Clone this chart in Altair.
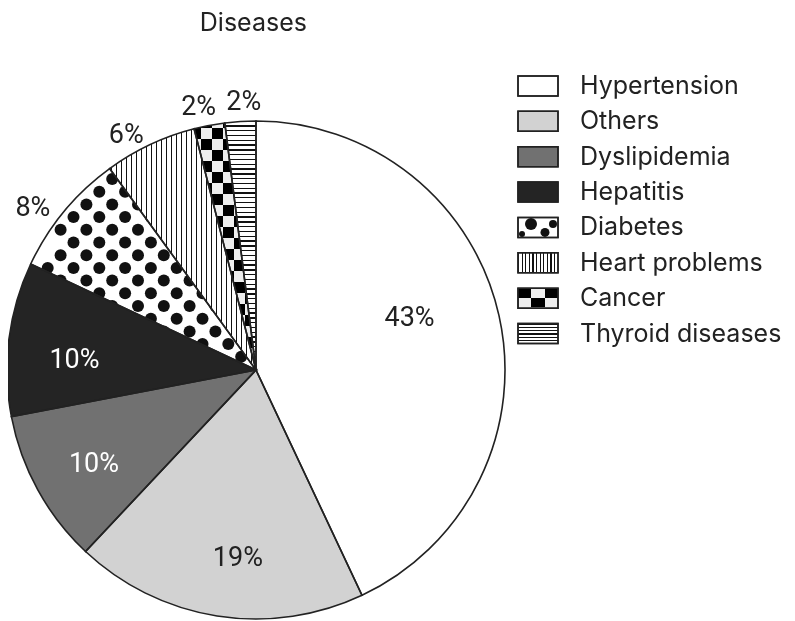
import math
import altair as alt
import pandas as pd

# ---------------- data ----------------
categories = ["Hypertension", "Others", "Dyslipidemia", "Hepatitis",
              "Diabetes", "Heart problems", "Cancer", "Thyroid diseases"]
values = [43, 19, 10, 10, 8, 6, 2, 2]
labels = ["43%", "19%", "10%", "10%", "8%", "6%", "2%", "2%"]
title_text = "Diseases"

# ---------------- style / layout ----------------
FONT = "Inter"
LABEL_FONT = "Roboto"
INK = "#222222"
W, H = 779, 583
CX, CY, R = 248, 332, 249
solid_fill = {"Hypertension": "#ffffff", "Others": "#d2d2d2",
              "Dyslipidemia": "#717171", "Hepatitis": "#242424", "Diabetes": "#ffffff"}
dark_label = ["Dyslipidemia", "Hepatitis"]
# label placement style: (radius, dx, dy)
label_place = {"Hypertension": (186, -28, -11), "Others": (186, 11, 4),
               "Dyslipidemia": (186, 1, 4), "Hepatitis": (186, 3, 13),
               "Diabetes": (274, -12, 13), "Heart problems": (274, -13, 13),
               "Cancer": (274, -6, 6), "Thyroid diseases": (274, 5, 5)}
LEG_X, LEG_TXT_X = 530, 572
LEG_RANGE = [48, 295.5]

total = sum(values)
starts, acc = [], 0
for v in values:
    starts.append(acc)
    acc += v
ends = [s + v for s, v in zip(starts, values)]
mids = [(s + e) / 2 for s, e in zip(starts, ends)]
df = pd.DataFrame({"cat": categories, "value": values, "label": labels,
                   "start": starts, "end": ends, "mid": mids})
theta_scale = alt.Scale(domain=[0, total])


def deg(p):
    return p / total * 360.0


def wedge_bbox(c):
    i = categories.index(c)
    a0, a1 = deg(starts[i]), deg(ends[i])
    pts = [(0.0, 0.0)]
    for a in (a0, a1):
        r = math.radians(a)
        pts.append((R * math.sin(r), -R * math.cos(r)))
    for card in (0, 90, 180, 270, 360):
        if a0 <= card <= a1:
            r = math.radians(card)
            pts.append((R * math.sin(r), -R * math.cos(r)))
    xs = [p[0] for p in pts]
    ys = [p[1] for p in pts]
    return min(xs), max(xs), min(ys), max(ys)


def stripe_stops(lo, hi, period, width, phase=0.0, dark="#111111", light="#ffffff"):
    span = hi - lo
    stops = [{"offset": 0, "color": light}]
    k = math.floor((lo - phase) / period) - 1
    while True:
        s = phase + k * period
        e = s + width
        if s > hi:
            break
        if e > lo:
            so = max(0.0, (s - lo) / span)
            eo = min(1.0, (e - lo) / span)
            stops += [{"offset": so, "color": light}, {"offset": so, "color": dark},
                      {"offset": eo, "color": dark}, {"offset": eo, "color": light}]
        k += 1
    stops.append({"offset": 1, "color": light})
    return stops


def grad(stops, horizontal):
    if horizontal:
        return {"gradient": "linear", "x1": 0, "y1": 0, "x2": 1, "y2": 0, "stops": stops}
    return {"gradient": "linear", "x1": 0, "y1": 0, "x2": 0, "y2": 1, "stops": stops}


# pattern fills for wedges
hx0, hx1, _, _ = wedge_bbox("Heart problems")
heart_fill = grad(stripe_stops(hx0, hx1, 5.0, 1.5), True)
_, _, ty0, ty1 = wedge_bbox("Thyroid diseases")
thyroid_fill = grad(stripe_stops(ty0, ty1, 4.8, 1.3), False)
cx0, cx1, cy0, cy1 = wedge_bbox("Cancer")
cancer_rows = grad(stripe_stops(cy0, cy1, 22.0, 11.0), False)
cancer_cols = grad(stripe_stops(cx0, cx1, 22.0, 11.0, phase=0.0), True)

# pattern fills for legend symbols (relative)
heart_leg = grad(stripe_stops(0, 40, 3.6, 1.2), True)
thyroid_leg = grad(stripe_stops(0, 20, 3.3, 1.1), False)
cancer_leg_rows = grad([{"offset": 0, "color": "#111111"}, {"offset": 0.5, "color": "#111111"},
                        {"offset": 0.5, "color": "#ffffff"}, {"offset": 1, "color": "#ffffff"}], False)
cancer_leg_cols = grad([{"offset": 0, "color": "#111111"}, {"offset": 1 / 3, "color": "#111111"},
                        {"offset": 1 / 3, "color": "#ffffff"}, {"offset": 2 / 3, "color": "#ffffff"},
                        {"offset": 2 / 3, "color": "#111111"}, {"offset": 1, "color": "#111111"}], True)

wedge_fill = dict(solid_fill)
wedge_fill["Heart problems"] = heart_fill
wedge_fill["Thyroid diseases"] = thyroid_fill
wedge_fill["Cancer"] = cancer_rows
legend_fill = dict(solid_fill)
legend_fill["Heart problems"] = heart_leg
legend_fill["Thyroid diseases"] = thyroid_leg
legend_fill["Cancer"] = cancer_leg_rows

# dot texture for Diabetes wedge (diagonal lattice)
di = categories.index("Diabetes")
da0, da1 = deg(starts[di]), deg(ends[di])
DOT_D = 12.0
dots = []
for a in range(-40, 41):
    for b in range(-40, 41):
        if (a + b) % 2:
            continue
        x = -156.7 + a * 12.9
        y = -178.3 + b * 12.7
        d = math.hypot(x, y)
        if d < 8 or d > R - 5:
            continue
        ang = math.degrees(math.atan2(x, -y)) % 360
        delta = math.degrees(math.asin(min(1.0, (DOT_D / 2) / d)))
        if da0 - delta <= ang <= da1 + delta:
            dots.append({"px": CX + x, "py": CY + y})
dots_df = pd.DataFrame(dots)


def arc_base(c):
    return alt.Chart(df).transform_filter(alt.datum.cat == c)


def arc_enc(ch):
    return ch.encode(theta=alt.Theta("start:Q", scale=theta_scale), theta2="end:Q",
                     x=alt.value(CX), y=alt.value(CY))


layers = []
# Diabetes background first, then dots, then the rest covers any spill
layers.append(arc_enc(arc_base("Diabetes").mark_arc(radius=R, fill=wedge_fill["Diabetes"])))
layers.append(alt.Chart(dots_df).mark_point(shape="circle", filled=True, fill="#111111",
                                            opacity=1, size=DOT_D ** 2, strokeWidth=0).encode(
    x=alt.X("px:Q", scale=None, axis=None), y=alt.Y("py:Q", scale=None, axis=None)))
for c in categories:
    if c == "Diabetes":
        continue
    layers.append(arc_enc(arc_base(c).mark_arc(radius=R, fill=wedge_fill[c])))
layers.append(arc_enc(arc_base("Cancer").mark_arc(radius=R, fill=cancer_cols, blend="difference")))
# outlines
layers.append(arc_enc(alt.Chart(df).mark_arc(radius=R, fillOpacity=0, stroke=INK, strokeWidth=1.6)))

# percentage labels
for c in categories:
    rad, dx, dy = label_place[c]
    layers.append(arc_base(c).mark_text(
        radius=rad, dx=dx, dy=dy, font=LABEL_FONT, fontSize=27, align="center", baseline="middle",
        color="white" if c in dark_label else INK).encode(
        theta=alt.Theta("mid:Q", scale=theta_scale), x=alt.value(CX), y=alt.value(CY),
        text="label:N"))

# legend
leg_df = pd.DataFrame({"cat": categories})
leg_y = alt.Y("cat:N", sort=categories, axis=None,
              scale=alt.Scale(domain=categories, range=LEG_RANGE, padding=0))
RECT = "M-1,-0.5H1V0.5H-1Z"
for c in categories:
    layers.append(alt.Chart(leg_df).transform_filter(alt.datum.cat == c).mark_point(
        shape=RECT, size=1600, filled=True, fill=legend_fill[c], opacity=1,
        stroke=INK, strokeWidth=1.5).encode(x=alt.value(LEG_X), y=leg_y))
layers.append(alt.Chart(leg_df).transform_filter(alt.datum.cat == "Cancer").mark_point(
    shape=RECT, size=1600, filled=True, fill=cancer_leg_cols, opacity=1, blend="difference",
    strokeWidth=0).encode(x=alt.value(LEG_X), y=leg_y))
for dx, dy, d in ((-7, -3.5, 12), (7, 5, 9), (15, -3.5, 8), (-16, 6.5, 6)):
    layers.append(alt.Chart(leg_df).transform_filter(alt.datum.cat == "Diabetes").mark_point(
        shape="circle", filled=True, fill="#111111", opacity=1, size=d * d, strokeWidth=0,
        xOffset=dx, yOffset=dy).encode(x=alt.value(LEG_X), y=leg_y))
# legend outlines on top
layers.append(alt.Chart(leg_df).mark_point(shape=RECT, size=1600, filled=False, opacity=1,
                                           stroke=INK, strokeWidth=1.5).encode(
    x=alt.value(LEG_X), y=leg_y))
layers.append(alt.Chart(leg_df).mark_text(font=FONT, fontSize=25, align="left",
                                          baseline="middle", color=INK).encode(
    x=alt.value(LEG_TXT_X), y=leg_y, text="cat:N"))

chart = alt.layer(*layers).resolve_scale(x="independent", y="independent").properties(
    width=W, height=H,
    title=alt.TitleParams(title_text, font=FONT, fontSize=25, fontWeight="normal",
                          color=INK, anchor="start", dx=196, offset=2),
    autosize=alt.AutoSizeParams(type="none"),
    padding={"left": 0, "top": 30, "right": 0, "bottom": 0},
).configure_view(stroke=None)

chart.save("out.html", embed_options={"renderer": "svg", "actions": False})
